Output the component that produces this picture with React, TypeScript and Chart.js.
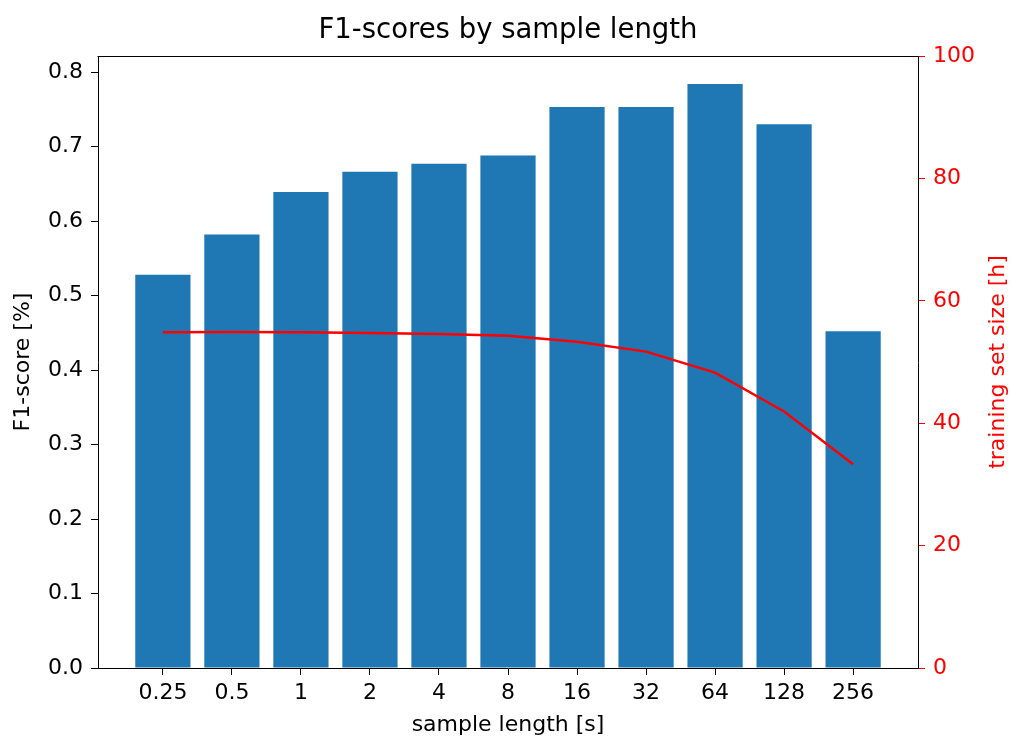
import { useEffect, useRef } from 'react';
import { Chart, registerables } from 'chart.js';

Chart.register(...registerables);

const sampleLengths = ['0.25', '0.5', '1', '2', '4', '8', '16', '32', '64', '128', '256'];
const f1Scores = [0.528, 0.582, 0.639, 0.666, 0.677, 0.688, 0.753, 0.753, 0.784, 0.73, 0.452];
const trainingHours = [54.85, 54.9, 54.85, 54.74, 54.58, 54.3, 53.3, 51.7, 48.25, 41.9, 33.3];
const f1Ticks = [0, 0.1, 0.2, 0.3, 0.4, 0.5, 0.6, 0.7, 0.8];
const hourTicks = [0, 20, 40, 60, 80, 100];

const FONT = "'DejaVu Sans', sans-serif";
const BAR_BLUE = '#1f77b4';
const RED = '#ff0000';

const frameAndLabels = {
  id: 'frameAndLabels',
  afterDraw(chart: any) {
    const { ctx, chartArea } = chart;
    const { left, right, top, bottom } = chartArea;
    ctx.save();
    // top spine
    ctx.strokeStyle = '#000';
    ctx.lineWidth = 1;
    ctx.beginPath();
    ctx.moveTo(left - 0.5, top + 0.5);
    ctx.lineTo(right + 0.5, top + 0.5);
    ctx.stroke();
    // chart title
    ctx.fillStyle = '#000';
    ctx.font = `27.5px ${FONT}`;
    ctx.textAlign = 'center';
    ctx.textBaseline = 'middle';
    ctx.fillText('F1-scores by sample length', (left + right) / 2, 31);
    // right axis title, reading bottom to top
    ctx.fillStyle = RED;
    ctx.font = `22px ${FONT}`;
    ctx.translate(998, (top + bottom) / 2);
    ctx.rotate(-Math.PI / 2);
    ctx.fillText('training set size [h]', 0, 0);
    ctx.restore();
  },
};

export default function App() {
  const canvasRef = useRef<HTMLCanvasElement | null>(null);

  useEffect(() => {
    document.body.style.margin = '0';
    const canvas = canvasRef.current;
    if (!canvas) return;

    const chart = new Chart(canvas, {
      type: 'bar',
      data: {
        datasets: [
          {
            type: 'line',
            label: 'training set size',
            data: trainingHours.map((v, i) => ({ x: i, y: v })),
            yAxisID: 'y1',
            borderColor: RED,
            borderWidth: 2.4,
            pointRadius: 0,
            tension: 0,
            order: 0,
          },
          {
            type: 'bar',
            label: 'F1-score',
            data: f1Scores.map((v, i) => ({ x: i, y: v })),
            yAxisID: 'y',
            backgroundColor: BAR_BLUE,
            borderWidth: 0,
            categoryPercentage: 1,
            barPercentage: 0.8,
            order: 1,
          },
        ],
      } as any,
      options: {
        responsive: false,
        animation: false,
        devicePixelRatio: 1,
        layout: { padding: { top: 56, left: 0, right: 0, bottom: 0 } },
        plugins: {
          legend: { display: false },
          title: { display: false },
          tooltip: { enabled: false },
        },
        scales: {
          x: {
            type: 'linear',
            min: -0.94,
            max: 10.94,
            offset: false,
            afterBuildTicks: (scale: any) => {
              scale.ticks = sampleLengths.map((_, i) => ({ value: i }));
            },
            afterFit: (scale: any) => {
              scale.height = 70;
            },
            ticks: {
              callback: (v: any) => sampleLengths[v] ?? '',
              font: { family: FONT, size: 22 },
              color: '#000',
              padding: 5,
              maxRotation: 0,
              autoSkip: false,
            },
            grid: {
              offset: false,
              drawOnChartArea: false,
              tickLength: 7,
              color: '#000',
              tickWidth: 1,
            },
            border: { color: '#000', width: 1 },
            title: {
              display: true,
              text: 'sample length [s]',
              font: { family: FONT, size: 22 },
              color: '#000',
              padding: { top: 0, bottom: 0 },
            },
          },
          y: {
            type: 'linear',
            position: 'left',
            min: 0,
            max: 0.8215,
            afterBuildTicks: (scale: any) => {
              scale.ticks = f1Ticks.map((v) => ({ value: v }));
            },
            afterFit: (scale: any) => {
              scale.width = 98;
            },
            ticks: {
              callback: (v: any) => Number(v).toFixed(1),
              font: { family: FONT, size: 22 },
              color: '#000',
              padding: 8,
            },
            grid: { drawOnChartArea: false, tickLength: 7, color: '#000', tickWidth: 1 },
            border: { color: '#000', width: 1 },
            title: {
              display: true,
              text: 'F1-score [%]',
              font: { family: FONT, size: 22 },
              color: '#000',
              padding: { top: 10, bottom: 0 },
            },
          },
          y1: {
            type: 'linear',
            position: 'right',
            min: 0,
            max: 100,
            afterBuildTicks: (scale: any) => {
              scale.ticks = hourTicks.map((v) => ({ value: v }));
            },
            afterFit: (scale: any) => {
              scale.width = 94;
            },
            ticks: {
              font: { family: FONT, size: 22 },
              color: RED,
              padding: 8,
            },
            grid: { drawOnChartArea: false, tickLength: 7, color: RED, tickWidth: 1 },
            border: { color: '#000', width: 1 },
          },
        },
      } as any,
      plugins: [frameAndLabels],
    });

    return () => chart.destroy();
  }, []);

  return (
    <div style={{ width: 1012, height: 738 }}>
      <canvas ref={canvasRef} width={1012} height={738} style={{ display: 'block' }} />
    </div>
  );
}
